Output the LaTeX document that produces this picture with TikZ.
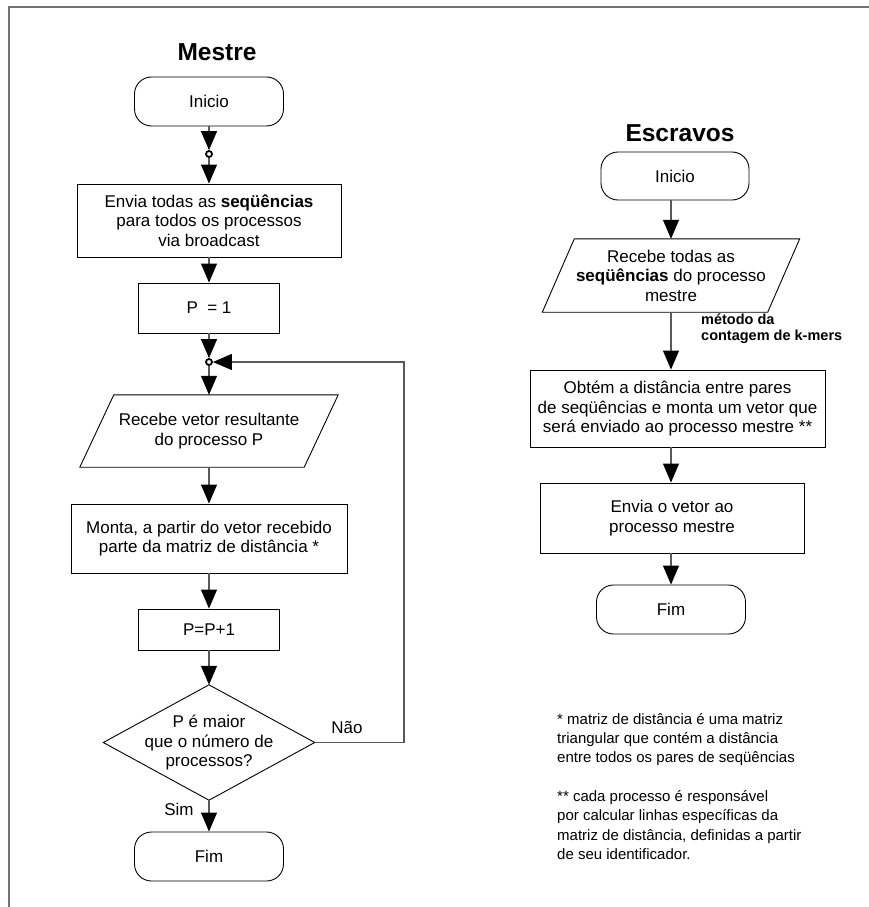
\documentclass[tikz,border=0pt]{standalone}
\usepackage{fontspec}
\setmainfont{Liberation Sans}
\usetikzlibrary{arrows.meta,calc}
\definecolor{framecol}{gray}{0.45}
\definecolor{linecol}{gray}{0.35}
\tikzset{
  lbl/.style={font=\fontsize{17}{19.5}\selectfont, align=center, inner sep=0pt},
  boxnode/.style={lbl, draw=black, line width=0.9pt},
  termnode/.style={boxnode, rounded corners=17pt},
  hidden/.style={lbl, draw=none},
  outline/.style={draw=black, line width=0.9pt},
  joint/.style={circle, draw=black, line width=1.8pt, minimum size=6pt, inner sep=0pt, fill=white},
  flow/.style={draw=linecol, line width=1.1pt, -{Triangle[width=16pt,length=19pt,color=black]}},
  title/.style={font=\fontsize{24.5}{28}\selectfont\bfseries, inner sep=0pt},
  note/.style={font=\fontsize{15}{19.3}\selectfont, align=left, inner sep=0pt},
  edgelbl/.style={font=\fontsize{14.5}{16}\selectfont\bfseries, align=left, inner sep=0pt}
}
\begin{document}
\begin{tikzpicture}[x=1pt,y=-1pt]
\useasboundingbox (0,0) rectangle (869,907);
% outer frame (top and left edges)
\draw[framecol, line width=2pt] (9,907) -- (9,7) -- (869,7);

% ---------- Mestre ----------
\node[title] (tm) at (217,52) {Mestre};
\node[termnode, minimum width=149pt, minimum height=49pt] (ini1) at (209,101.5) {Inicio};
\node[joint] (c1) at (209,154) {};
\node[boxnode, minimum width=264pt, minimum height=73pt] (env1) at (209,220.5)
  {Envia todas as \textbf{seqüências}\\para todos os processos\\via broadcast};
\node[boxnode, minimum width=141pt, minimum height=50pt] (p1) at (209,308) {P\ \ = 1};
\node[joint] (c2) at (209,362) {};
\node[hidden, minimum width=258pt, minimum height=72pt] (par1) at (209,431)
  {Recebe vetor resultante\\do processo P};
\draw[outline] (par1.south west) -- ($(par1.north west)+(34,0)$) -- (par1.north east)
  -- ($(par1.south east)+(-34,0)$) -- cycle;
\node[boxnode, minimum width=276pt, minimum height=69pt] (mon) at (209,538.5)
  {Monta, a partir do vetor recebido\\parte da matriz de distância *};
\node[boxnode, minimum width=141pt, minimum height=41pt] (inc) at (209,629.5) {P=P+1};
\node[hidden, minimum width=211pt, minimum height=115pt] (dec) at (209,742.5)
  {P é maior\\que o número de\\processos?};
\draw[outline] (dec.north) -- (dec.east) -- (dec.south) -- (dec.west) -- cycle;
\node[termnode, minimum width=149pt, minimum height=49pt] (fim1) at (209,856.5) {Fim};

\draw[flow] (ini1) -- (c1);
\draw[flow] (c1) -- (env1);
\draw[flow] (env1) -- (p1);
\draw[flow] (p1) -- (c2);
\draw[flow] (c2) -- (par1);
\draw[flow] (par1) -- (mon);
\draw[flow] (mon) -- (inc);
\draw[flow] (inc) -- (dec);
\draw[flow] (dec) -- (fim1);
\coordinate (loopA) at (404,742.5);
\coordinate (loopB) at (404,362);
\draw[flow] (dec.east) -- (loopA) -- (loopB) -- (c2);
\node[lbl] (nao) at (347,727) {Não};
\node[lbl] (sim) at (179,809) {Sim};

% ---------- Escravos ----------
\node[title] (te) at (680,133) {Escravos};
\node[termnode, minimum width=148pt, minimum height=48pt] (ini2) at (675,176) {Inicio};
\node[hidden, minimum width=257pt, minimum height=73pt] (par2) at (671,275.5)
  {Recebe todas as\\\textbf{seqüências} do processo\\mestre};
\draw[outline] (par2.south west) -- ($(par2.north west)+(32,0)$) -- (par2.north east)
  -- ($(par2.south east)+(-32,0)$) -- cycle;
\node[boxnode, minimum width=295pt, minimum height=77pt] (obt) at (677.5,408.5)
  {Obtém a distância entre pares\\de seqüências e monta um vetor que\\será enviado ao processo mestre **};
\node[boxnode, minimum width=264pt, minimum height=70pt] (env2) at (672,518)
  {Envia o vetor ao\\processo mestre};
\node[termnode, minimum width=149pt, minimum height=49pt] (fim2) at (671,609.5) {Fim};

\draw[flow] (ini2.south -| par2.north) -- (par2);
\draw[flow] (par2.south) -- (par2.south |- obt.north);
\draw[flow] (obt.south -| par2.south) -- (env2.north -| par2.south);
\draw[flow] (env2.south -| par2.south) -- (fim2.north -| par2.south);
\node[edgelbl, anchor=west] (kmer) at (701,329) {método da\\contagem de k-mers};

% ---------- notes ----------
\node[note, anchor=north west] (fn) at (557,713)
  {* matriz de distância é uma matriz\\triangular que contém a distância\\entre todos os pares de seqüências\\[19.3pt]** cada processo é responsável\\por calcular linhas específicas da\\matriz de distância, definidas a partir\\de seu identificador.};
\end{tikzpicture}
\end{document}
